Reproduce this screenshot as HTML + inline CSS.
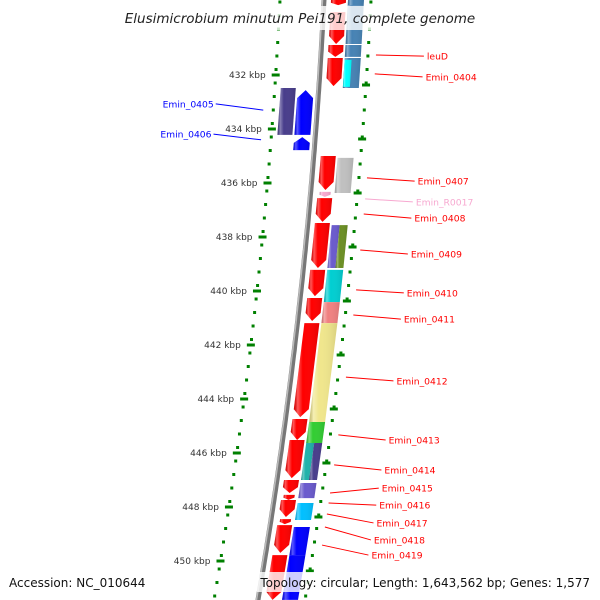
<!DOCTYPE html>
<html><head><meta charset="utf-8"><style>
body{margin:0;background:#fff}
svg{display:block;font-family:"DejaVu Sans","Liberation Sans",sans-serif}
</style></head><body>
<svg id="map" width="600" height="600" viewBox="0 0 600 600">
<g id="dots"></g>
<g id="backbone"></g>
<g id="genes"></g>
<g id="labels"></g>
<g id="overlay"></g>
</svg>
<script>
// scale labels (kbp)
const tickKbp = [432,434,436,438,440,442,444,446,448,450];
// forward-strand genes (kbp start, end)
const fwdStart = [429.22,429.67,430.89,431.37,435.00,436.56,437.48,439.22,440.26,441.19,444.74,445.52,447.00,447.74,448.67,449.78];
const fwdEnd   = [429.41,430.85,431.33,432.41,436.26,437.44,439.15,440.19,441.11,444.67,445.52,446.93,447.48,448.37,449.70,451.44];
// small features (pink RNA + small triangles)
const smallKbp = [436.33,447.55,448.45];
const smallCol = ['#f7a8d0','#ff0000','#ff0000'];
// COG colour track (kbp start, end, colour)
const cogStart = [429.22,429.41,430.89,431.37,435.07,437.56,437.56,439.22,440.41,441.19,444.85,445.63,445.63,447.11,447.85,448.74,449.78];
const cogEnd   = [429.41,430.85,431.33,432.48,436.37,439.15,439.15,440.41,441.19,444.85,445.63,447.00,447.00,447.67,448.48,449.78,451.44];
const cogCol   = ['#4682b4','#4682b4','#4682b4','#4682b4','#c0c0c0','#6a5acd','#6b8e23','#00ced1','#f08080','#f0e68c','#32cd32','#20b2aa','#483d8b','#6a5acd','#00bfff','#0000ff','#0000ff'];
const cogHalf  = [0,0,0,0,0,1,2,0,0,0,0,1,2,0,0,0,0];
// reverse-strand genes
const revStart = [432.56,434.30];
const revEnd   = [434.22,434.78];
const revCol   = ['#0000ff','#0000ff'];
const revCogStart = [432.48];
const revCogEnd = [434.22];
const revCogCol = ['#483d8b'];
// labels
const labNames = ['leuD','Emin_0404','Emin_0407','Emin_R0017','Emin_0408','Emin_0409','Emin_0410','Emin_0411','Emin_0412','Emin_0413','Emin_0414','Emin_0415','Emin_0416','Emin_0417','Emin_0418','Emin_0419'];
const labFeatKbp = [431.26,431.96,435.81,436.59,437.15,438.48,439.96,440.89,443.19,445.33,446.44,447.48,447.85,448.26,448.74,449.41];
const labTextKbp = [431.30,432.07,435.93,436.70,437.30,438.63,440.07,441.04,443.33,445.52,446.63,447.30,447.93,448.59,449.22,449.78];
const labColor = ['#ff0000','#ff0000','#ff0000','#f7a8d0','#ff0000','#ff0000','#ff0000','#ff0000','#ff0000','#ff0000','#ff0000','#ff0000','#ff0000','#ff0000','#ff0000','#ff0000'];
const leftNames = ['Emin_0405','Emin_0406'];
const leftFeatKbp = [433.30,434.40];
const leftTextKbp = [433.07,434.19];

const NS='http://www.w3.org/2000/svg';
const Y = k => 75 + (k-432)*27;
const BX = y => 324 - 0.05*y - 0.0001*y*y;
function mk(tag,attrs,parent){const e=document.createElementNS(NS,tag);for(const k in attrs)e.setAttribute(k,attrs[k]);parent.appendChild(e);return e;}
const G=id=>document.getElementById(id);

let d='';for(let y=-5;y<=605;y+=5){d+=(y===-5?'M':'L')+BX(y).toFixed(1)+','+y;}
let bb=mk('path',{d:d,stroke:'#777',"stroke-width":5,fill:'none'},G('backbone'));


let bb2=mk('path',{d:d,stroke:'#bbb',"stroke-width":1.5,fill:'none',transform:'translate(-1.5,0)'},G('backbone'));



for(let y=2;y<600;y+=13.5){
  let a=mk('rect',{x:BX(y)-44-1.5,y:y-1.5,width:3,height:3,fill:'#008000'},G('dots'));
  
  
  let b=mk('rect',{x:BX(y)+47-1.5,y:y-1.5,width:3,height:3,fill:'#008000'},G('dots'));
  
  
}
tickKbp.forEach(k=>{
  const y=Y(k);
  let t=mk('rect',{x:BX(y)-44-4,y:y-1.5,width:8,height:3,fill:'#008000'},G('dots'));
  
  
  const y2=Y(k+0.37);
  let t2=mk('rect',{x:BX(y2)+47-4,y:y2-1.5,width:8,height:3,fill:'#008000'},G('dots'));
  
  
  let l=mk('text',{x:BX(y)-44-10,y:y+3,"font-size":9,fill:'#333',"text-anchor":'end'},G('dots'));
  l.textContent=k+' kbp';
  
  
});

function band(y1,y2,o1,o2,col,arrow,name){
  const h=Math.min(8,(y2-y1)*0.45);
  let pts;
  if(arrow==='down'){
    pts=[[BX(y1)+o1,y1],[BX(y1)+o2,y1],[BX(y2-h)+o2,y2-h],[BX(y2)+(o1+o2)/2,y2],[BX(y2-h)+o1,y2-h]];
  }else if(arrow==='up'){
    pts=[[BX(y1)+(o1+o2)/2,y1],[BX(y1+h)+o2,y1+h],[BX(y2)+o2,y2],[BX(y2)+o1,y2],[BX(y1+h)+o1,y1+h]];
  }else{
    pts=[[BX(y1)+o1,y1],[BX(y1)+o2,y1],[BX(y2)+o2,y2],[BX(y2)+o1,y2]];
  }
  const ps=pts.map(q=>q[0].toFixed(1)+','+q[1].toFixed(1)).join(' ');
  let p=mk('polygon',{points:ps,fill:col},G('genes'));
  
  
  let s=mk('polygon',{points:ps,fill:'url(#shade)'},G('genes'));
  
  
}
const defs=mk('defs',{},G('map'));
const lg=mk('linearGradient',{id:'shade',x1:0,x2:1,y1:0,y2:0},defs);
mk('stop',{offset:'0','stop-color':'#000','stop-opacity':0.15},lg);
mk('stop',{offset:'0.15','stop-color':'#fff','stop-opacity':0.35},lg);
mk('stop',{offset:'0.35','stop-color':'#fff','stop-opacity':0},lg);
mk('stop',{offset:'1','stop-color':'#000','stop-opacity':0.1},lg);

fwdStart.forEach((s,i)=>band(Y(s),Y(fwdEnd[i]),7,22,'#ff0000','down','forward-gene'));
smallKbp.forEach((k,i)=>band(Y(k),Y(k)+5,9,20,smallCol[i],'down','small-feature'));
cogStart.forEach((s,i)=>{
  const h=cogHalf[i];const o1=h===2?32:24,o2=h===1?32:40;
  band(Y(s),Y(cogEnd[i]),o1,o2,cogCol[i],'none','cog-box');
});
band(Y(431.44),Y(432.44),24,31,'#00ffff','none','cog-box');
revStart.forEach((s,i)=>band(Y(s),Y(revEnd[i]),-21,-5,revCol[i],'up','reverse-gene'));
revCogStart.forEach((s,i)=>band(Y(s),Y(revCogEnd[i]),-38,-23,revCogCol[i],'none','reverse-cog-box'));

labNames.forEach((n,i)=>{
  const fy=Y(labFeatKbp[i]),ty=Y(labTextKbp[i]);
  const fx=BX(fy)+55, tx=BX(ty)+106;
  let ln=mk('line',{x1:fx,y1:fy,x2:tx-3,y2:ty,stroke:labColor[i],"stroke-width":1},G('labels'));
  
  
  let t=mk('text',{x:tx,y:ty+3.5,"font-size":9.2,fill:labColor[i]},G('labels'));
  t.textContent=n;
  
  
});
leftNames.forEach((n,i)=>{
  const fy=Y(leftFeatKbp[i]),ty=Y(leftTextKbp[i]);
  let ln=mk('line',{x1:BX(fy)-54,y1:fy,x2:BX(ty)-102,y2:ty,stroke:'#0000ff',"stroke-width":1},G('labels'));
  
  
  let t=mk('text',{x:BX(ty)-104,y:ty+3.5,"font-size":9.2,fill:'#0000ff',"text-anchor":'end'},G('labels'));
  t.textContent=n;
  
  
});

const ov=G('overlay');
let r1=mk('rect',{x:118,y:6,width:366,height:24,fill:'#fff',"fill-opacity":0.8},ov);


let tt=mk('text',{x:300,y:23,"font-size":13.5,"font-style":'italic',fill:'#222',"text-anchor":'middle'},ov);
tt.textContent='Elusimicrobium minutum Pei191, complete genome';


let r2=mk('rect',{x:257,y:572,width:336,height:20,fill:'#fff',"fill-opacity":0.8},ov);


let a1=mk('text',{x:9,y:587,"font-size":12,fill:'#111'},ov);
a1.textContent='Accession: NC_010644';


let a2=mk('text',{x:590,y:587,"font-size":12,fill:'#111',"text-anchor":'end'},ov);
a2.textContent='Topology: circular; Length: 1,643,562 bp; Genes: 1,577';


</script>
</body></html>
